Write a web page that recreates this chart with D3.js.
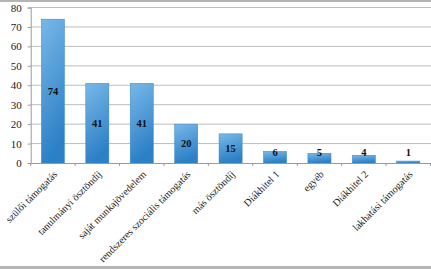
<!DOCTYPE html>
<html>
<head>
<meta charset="utf-8">
<script src="https://cdn.jsdelivr.net/npm/d3@7"></script>
<style>
  body { margin: 0; background: #fff; }
  svg { display: block; }
</style>
</head>
<body>
<div id="chart"></div>
<script>
/* DATA */
const categories = ["szülői támogatás", "tanulmányi ösztöndíj", "saját munkajövedelem",
  "rendszeres szociális támogatás", "más ösztöndíj", "Diákhitel 1", "egyéb", "Diákhitel 2",
  "lakhatási támogatás"];
const values = [74, 41, 41, 20, 15, 6, 5, 4, 1];
const yTicks = [0, 10, 20, 30, 40, 50, 60, 70, 80];

/* CONSTANTS */
const width = 431, height = 269;
const margin = {top: 7.5, right: 0.5, bottom: 106, left: 30.7};
const font = "'Liberation Serif', 'DejaVu Serif', serif";

const svg = d3.select("#chart").append("svg")
  .attr("width", width)
  .attr("height", height);

const defs = svg.append("defs");
const grad = defs.append("linearGradient")
  .attr("id", "barGrad")
  .attr("x1", 0).attr("y1", 0).attr("x2", 0.25).attr("y2", 1);
grad.append("stop").attr("offset", "0%").attr("stop-color", "#78b8e8");
grad.append("stop").attr("offset", "100%").attr("stop-color", "#2c80c6");

// frame lines top and bottom
svg.append("rect")
  .attr("x", 0).attr("y", 0).attr("width", width).attr("height", 2)
  .attr("fill", "#b4b4b4");
svg.append("rect")
  .attr("x", 0).attr("y", 266).attr("width", width).attr("height", 3)
  .attr("fill", "#b4b4b4");

/* SCALES */
const x = d3.scaleBand()
  .domain(categories)
  .range([margin.left, width - margin.right])
  .paddingInner(0.48)
  .paddingOuter(0.24);

const y = d3.scaleLinear()
  .domain([0, 80])
  .range([height - margin.bottom, margin.top]);

/* GRID */
svg.append("g")
  .selectAll("line")
  .data(yTicks.slice(1))
  .join("line")
  .attr("x1", margin.left)
  .attr("x2", width)
  .attr("y1", d => y(d))
  .attr("y2", d => y(d))
  .attr("stroke", "#bdbdbd")
  .attr("stroke-width", 1);

/* BARS */
svg.append("g")
  .selectAll("rect")
  .data(values)
  .join("rect")
  .attr("x", (d, i) => x(categories[i]))
  .attr("y", d => y(d))
  .attr("width", x.bandwidth())
  .attr("height", d => y(0) - y(d))
  .attr("fill", "url(#barGrad)")
  .attr("stroke", "#3a86c4")
  .attr("stroke-width", 0.5);

/* AXES */
const yAxis = svg.append("g")
  .attr("transform", `translate(${margin.left},0)`)
  .call(d3.axisLeft(y).tickValues(yTicks).tickSize(3).tickPadding(6));
yAxis.attr("font-family", null);
yAxis.select(".domain").attr("stroke", "#9a9a9a");
yAxis.selectAll(".tick line").attr("stroke", "#9a9a9a");
yAxis.selectAll("text")
  .style("font-family", font)
  .style("font-size", "11px")
  .attr("fill", "#222");

const xAxis = svg.append("g")
  .attr("transform", `translate(0,${y(0)})`)
  .call(d3.axisBottom(x).tickSize(0).tickFormat(""));
xAxis.select(".domain").attr("stroke", "#9a9a9a");

// tick marks at band boundaries
const step = x.step();
svg.append("g")
  .selectAll("line")
  .data(d3.range(categories.length + 1))
  .join("line")
  .attr("x1", i => x(categories[0]) - (step - x.bandwidth()) / 2 + i * step)
  .attr("x2", i => x(categories[0]) - (step - x.bandwidth()) / 2 + i * step)
  .attr("y1", y(0))
  .attr("y2", y(0) + 3)
  .attr("stroke", "#9a9a9a");

// category labels
svg.append("g")
  .selectAll("text")
  .data(categories)
  .join("text")
  .attr("transform", d => `translate(${x(d) + x.bandwidth() / 2 + 5},${y(0) + 12}) rotate(-45)`)
  .attr("text-anchor", "end")
  .style("font-family", font)
  .style("font-size", "10.2px")
  .attr("fill", "#222")
  .text(d => d);

/* VALUE LABELS */
svg.append("g")
  .selectAll("text")
  .data(values)
  .join("text")
  .attr("x", (d, i) => x(categories[i]) + x.bandwidth() / 2)
  .attr("y", d => Math.min((y(d) + y(0)) / 2, y(5.5)) + 3.5)
  .attr("text-anchor", "middle")
  .style("font-family", font)
  .style("font-size", "10.5px")
  .attr("font-weight", "bold")
  .attr("fill", "#111")
  .text(d => d);
</script>
</body>
</html>
